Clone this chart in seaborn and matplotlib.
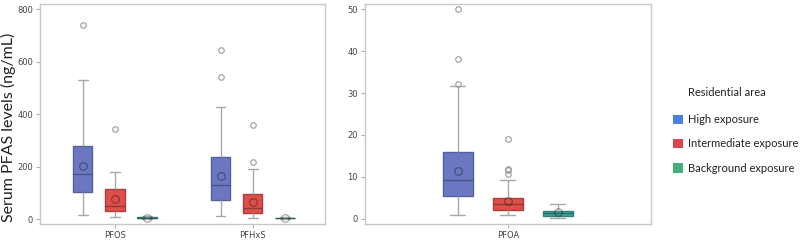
import pandas as pd
import matplotlib
matplotlib.use('Agg')
import matplotlib.pyplot as plt
import matplotlib.colors as mcolors
from matplotlib.patches import Patch
import seaborn as sns

# ========================================
# Данные (значения подобраны по рисунку: квартили, усы, выбросы, среднее)
# ========================================
AREAS = ['High exposure', 'Intermediate exposure', 'Background exposure']
BOX_COLORS = ['#6b78c1', '#dc4f4b', '#3fa39a']
LEGEND_COLORS = ['#4a7fe6', '#e0424c', '#43b07c']

pfos_high = [14, 16, 20, 30, 102, 105, 110, 120, 170, 175, 185, 200, 279, 300, 354, 532, 739]
pfos_mid = [6, 7, 8, 10, 30, 31, 33, 36, 51, 53, 56, 60, 113, 120, 136, 180, 345]
pfos_low = [1, 2, 3, 4, 5, 6, 7, 9, 12]

pfhxs_high = [10, 12, 14, 16, 20, 74, 75, 78, 80, 85, 130, 131, 133, 135, 140,
              235, 236, 246, 428, 541, 646]
pfhxs_mid = [3, 3, 4, 5, 6, 8, 22, 23, 24, 25, 27, 30, 41, 42, 43, 45, 48, 52,
             94, 98, 102, 115, 189, 217, 359]
pfhxs_low = [0.5, 1, 2, 2.5, 3, 4, 5, 6, 8]

pfoa_high = [1.0, 1.2, 1.5, 1.8, 2.2, 2.6, 3.0, 3.6, 5.4, 5.5, 5.7, 5.9, 6.2, 6.6, 7.0, 7.6,
             9.3, 9.4, 9.5, 9.7, 9.9, 10.2, 10.6, 11.2, 16.0, 16.1, 16.2, 16.3, 16.3,
             31.6, 32.2, 38.2, 50.0]
pfoa_mid = [0.9, 1.0, 1.0, 1.1, 1.2, 1.3, 1.4, 1.5, 1.7, 1.9, 2.1,
            2.2, 2.2, 2.3, 2.4, 2.5, 2.7, 2.9, 3.1, 3.3, 3.6,
            3.7, 3.7, 3.8, 3.9, 4.0, 4.1, 4.3, 4.5, 4.7, 5.1,
            5.2, 5.3, 5.5, 6.0, 7.0, 9.2, 10.8, 11.6, 12.0, 19.1]
pfoa_low = [0.2, 0.5, 0.7, 1.0, 1.4, 1.8, 2.0, 2.9, 3.5]


def to_long(compound, groups):
    rows = []
    for area, values in zip(AREAS, groups):
        for v in values:
            rows.append({'compound': compound, 'area': area, 'value': v})
    return rows


left_df = pd.DataFrame(to_long('PFOS', [pfos_high, pfos_mid, pfos_low]) +
                       to_long('PFHxS', [pfhxs_high, pfhxs_mid, pfhxs_low]))
right_df = pd.DataFrame(to_long('PFOA', [pfoa_high, pfoa_mid, pfoa_low]))

# ========================================
# Визуализация
# ========================================
sns.set_style('white')
plt.rcParams['font.family'] = ['DejaVu Sans']
TEXT_FONT = ['Lato', 'DejaVu Sans']

fig = plt.figure(figsize=(8, 2.42), dpi=100)
ax1 = fig.add_axes([0.05, 0.0744, 0.356, 0.909])
ax2 = fig.add_axes([0.456, 0.0744, 0.3575, 0.909])

box_kw = dict(
    x='compound', y='value', hue='area', hue_order=AREAS, palette=BOX_COLORS,
    width=0.7, gap=0.4, showmeans=True, saturation=1, linecolor='#a8a8a8',
    linewidth=1, legend=False,
    medianprops=dict(color=(0, 0, 0, 0.3), linewidth=1),
    meanprops=dict(marker='o', markerfacecolor='none', markeredgecolor=(0, 0, 0, 0.3),
                   markersize=5.5, markeredgewidth=1),
    flierprops=dict(marker='o', markerfacecolor='none', markeredgecolor='#9a9a9a',
                    markersize=4, markeredgewidth=0.8),
)

sns.boxplot(data=left_df, ax=ax1, **box_kw)
sns.boxplot(data=right_df, ax=ax2, **box_kw)

for ax in (ax1, ax2):
    for p in ax.patches:
        fc = mcolors.to_rgb(p.get_facecolor())
        p.set_edgecolor([c * 0.8 for c in fc])
    for side in ['left', 'right', 'top', 'bottom']:
        ax.spines[side].set_visible(True)
        ax.spines[side].set_color('#c8c8c8')
        ax.spines[side].set_linewidth(1)
    ax.set_xlabel('')
    ax.set_ylabel('')
    ax.tick_params(axis='both', labelsize=6, length=3, width=0.8,
                   left=True, bottom=True, pad=2, colors='#b0b0b0', labelcolor='#444444')

ax1.set_xlim(-0.543, 1.522)
ax1.set_ylim(-19, 820)
ax1.set_yticks([0, 200, 400, 600, 800])
ax2.set_xlim(-0.667, 0.667)
ax2.set_ylim(-1.2, 51.2)
ax2.set_yticks([0, 10, 20, 30, 40, 50])

fig.text(0.011, 0.475, 'Serum PFAS levels (ng/mL)', rotation=90, ha='center', va='center',
         fontsize=11.5, family=TEXT_FONT, color='#222222')

# Легенда
fig.text(0.86, 0.616, 'Residential area', ha='left', va='center',
         fontsize=8, family=TEXT_FONT, color='#222222')
handles = [Patch(facecolor=c, edgecolor='none') for c in LEGEND_COLORS]
leg = fig.legend(handles, AREAS, loc='center left', bbox_to_anchor=(0.841, 0.405),
                 frameon=False, borderpad=0, borderaxespad=0,
                 prop={'family': TEXT_FONT, 'size': 8},
                 handlelength=0.9, handleheight=0.9, handletextpad=0.5,
                 labelspacing=1.2)
for t in leg.get_texts():
    t.set_color('#222222')

plt.savefig('out.png', dpi=100)
plt.close()
